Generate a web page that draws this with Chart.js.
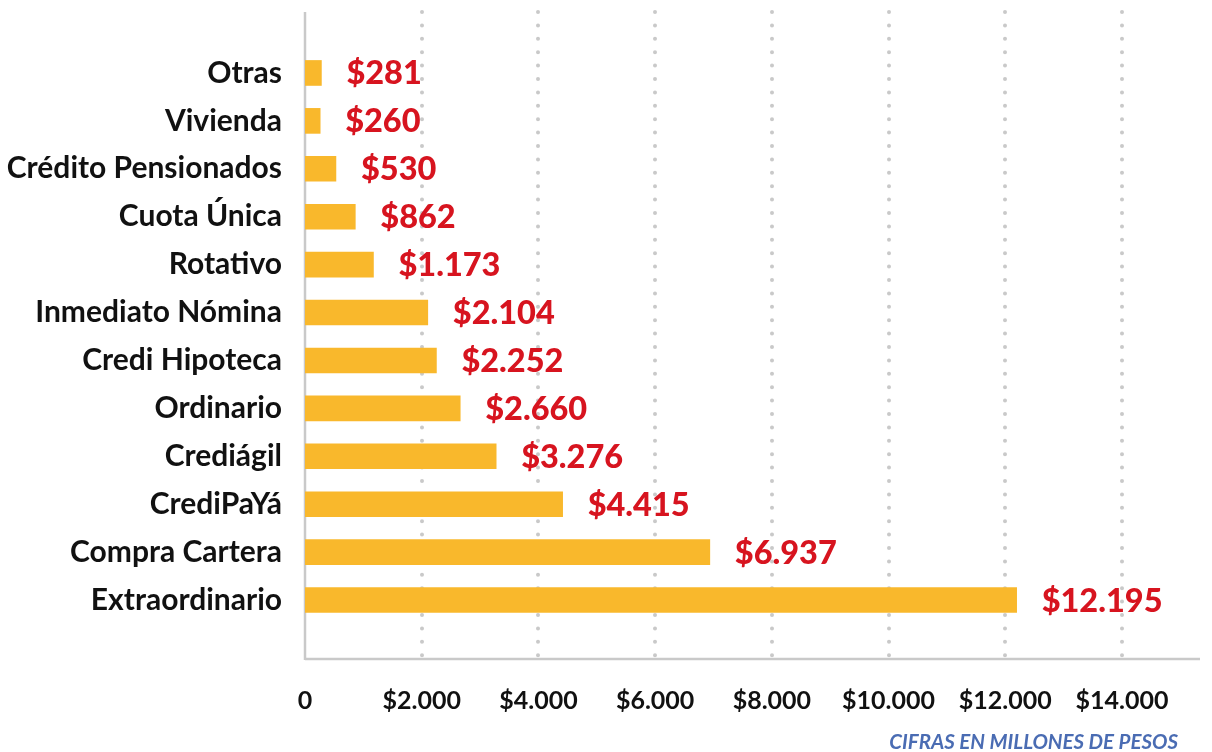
<!DOCTYPE html>
<html>
<head>
<meta charset="utf-8">
<script src="https://cdn.jsdelivr.net/npm/chart.js@4"></script>
<style>
    html, body { margin: 0; padding: 0; background: #ffffff; }
    #wrap { position: relative; width: 1212px; height: 752px; }
    #note {
        position: absolute; right: 34px; top: 729px;
        font-family: 'Lato', sans-serif; font-weight: bold; font-style: italic;
        font-size: 20.5px; color: #4a6cb3;
    }
</style>
</head>
<body>
<div id="wrap">
    <canvas id="barChart" width="1212" height="752"></canvas>
    <div id="note">CIFRAS EN MILLONES DE PESOS</div>
</div>
<script>
// Data
const categories = ['Otras', 'Vivienda', 'Crédito Pensionados', 'Cuota Única', 'Rotativo', 'Inmediato Nómina',
    'Credi Hipoteca', 'Ordinario', 'Crediágil', 'CrediPaYá', 'Compra Cartera', 'Extraordinario'];
const amounts = [281, 260, 530, 862, 1173, 2104, 2252, 2660, 3276, 4415, 6937, 12195];
const tickValues = [0, 2000, 4000, 6000, 8000, 10000, 12000, 14000];

const gridColor = '#c9c9c9';
const barColor = '#f9b82c';
const valueColor = '#d7141f';

function pesos(v) {
    return '$' + String(v).replace(/\B(?=(\d{3})+(?!\d))/g, '.');
}

// dotted grid + axis lines, drawn a bit past the category band like the original
const framePlugin = {
    id: 'frame',
    beforeDatasetsDraw(chart) {
        const ctx = chart.ctx;
        const x = chart.scales.x;
        const top = 12, bottom = 659;
        ctx.save();
        ctx.strokeStyle = gridColor;
        ctx.lineWidth = 4;
        ctx.lineCap = 'round';
        ctx.setLineDash([0, 13.4]);
        tickValues.slice(1).forEach(v => {
            const px = Math.round(x.getPixelForValue(v));
            ctx.beginPath();
            ctx.moveTo(px, top);
            ctx.lineTo(px, bottom);
            ctx.stroke();
        });
        ctx.setLineDash([]);
        ctx.lineCap = 'butt';
        ctx.lineWidth = 2.5;
        const x0 = x.getPixelForValue(0);
        ctx.beginPath();
        ctx.moveTo(x0, top);
        ctx.lineTo(x0, bottom + 1);
        ctx.moveTo(x0, bottom);
        ctx.lineTo(x.right, bottom);
        ctx.stroke();
        ctx.restore();
    },
    afterDatasetsDraw(chart) {
        const ctx = chart.ctx;
        const meta = chart.getDatasetMeta(0);
        ctx.save();
        ctx.font = '900 32.5px Lato';
        ctx.fillStyle = valueColor;
        ctx.textAlign = 'left';
        ctx.textBaseline = 'middle';
        meta.data.forEach((bar, i) => {
            ctx.fillText(pesos(amounts[i]), bar.x + 25, bar.y + 1);
        });
        ctx.restore();
    }
};

const ctx = document.getElementById('barChart').getContext('2d');
const barChart = new Chart(ctx, {
    type: 'bar',
    data: {
        labels: categories,
        datasets: [{
            data: amounts,
            backgroundColor: barColor,
            barThickness: 25
        }]
    },
    options: {
        indexAxis: 'y',
        responsive: false,
        animation: false,
        layout: { padding: { top: 49, right: 12, bottom: 0, left: 0 } },
        scales: {
            x: {
                min: 0,
                max: 15337,
                grid: { display: false, drawTicks: false },
                border: { display: false },
                afterBuildTicks: (scale) => {
                    scale.ticks = tickValues.map(v => ({ value: v }));
                },
                ticks: {
                    padding: 62,
                    maxRotation: 0,
                    autoSkip: false,
                    color: '#111111',
                    font: { family: 'Lato', size: 25, weight: 'bold' },
                    callback: (v) => v === 0 ? '0' : pesos(v)
                },
                afterFit: (scale) => {
                    scale.height = 128;
                    scale.paddingLeft = 0;
                    scale.paddingRight = 0;
                }
            },
            y: {
                grid: { display: false, drawTicks: false },
                border: { display: false },
                ticks: {
                    padding: 23,
                    color: '#111111',
                    font: { family: 'Lato', size: 30, weight: 'bold' }
                },
                afterFit: (scale) => { scale.width = 305; }
            }
        },
        plugins: {
            legend: { display: false },
            tooltip: { enabled: false }
        }
    },
    plugins: [framePlugin]
});
</script>
</body>
</html>
